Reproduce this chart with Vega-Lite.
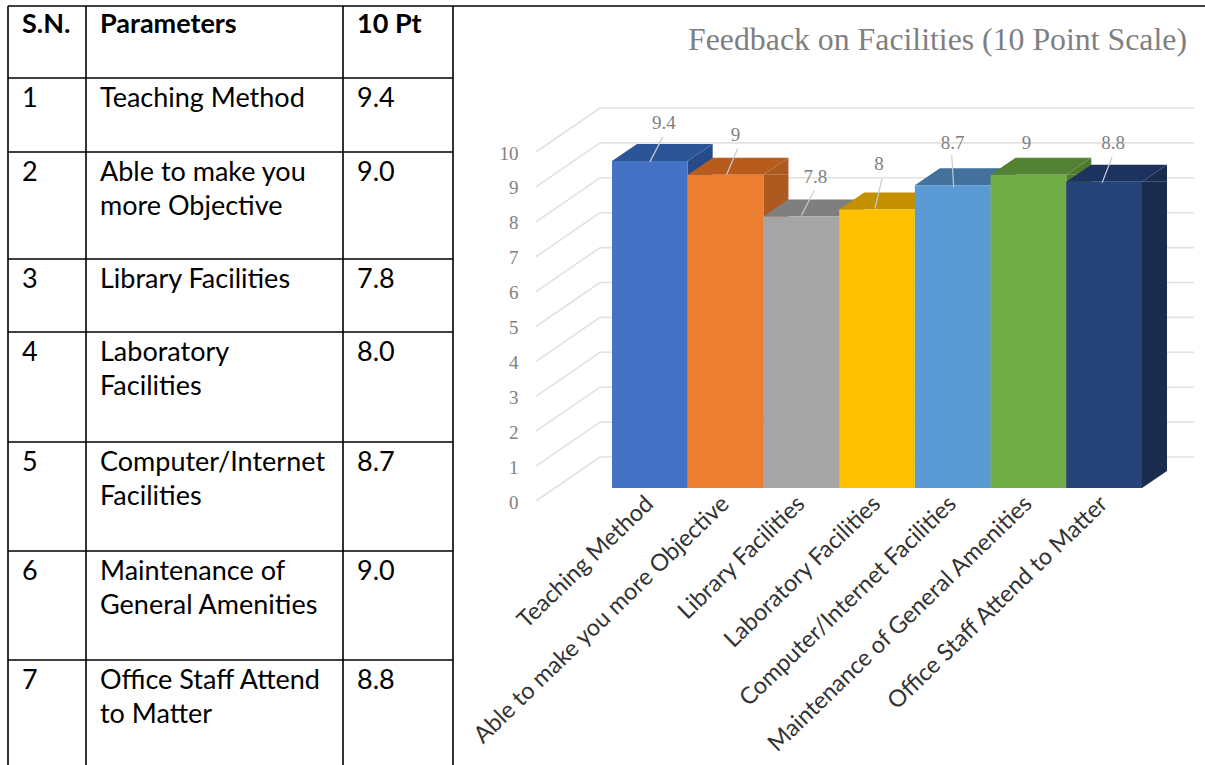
{
"$schema":"https://vega.github.io/schema/vega-lite/v6.json",
"padding":0,"background":"white",
"config":{"view":{"stroke":null},"font":"Lato"},
"bounds":"flush","spacing":0,
"datasets":{
"facilities":[
{"sn":1,"parameter":"Teaching Method","score":9.4},
{"sn":2,"parameter":"Able to make you more Objective","score":9},
{"sn":3,"parameter":"Library Facilities","score":7.8},
{"sn":4,"parameter":"Laboratory Facilities","score":8},
{"sn":5,"parameter":"Computer/Internet Facilities","score":8.7},
{"sn":6,"parameter":"Maintenance of General Amenities","score":9},
{"sn":7,"parameter":"Office Staff Attend to Matter","score":8.8}],
"header":[{"col":0,"row":0,"text":"S.N."},{"col":1,"row":0,"text":"Parameters"},{"col":2,"row":0,"text":"10 Pt"}],
"cells":[
{"col":0,"row":1,"text":"1"},{"col":1,"row":1,"text":"Teaching Method"},{"col":2,"row":1,"text":"9.4"},
{"col":0,"row":2,"text":"2"},{"col":1,"row":2,"text":"Able to make you\nmore Objective"},{"col":2,"row":2,"text":"9.0"},
{"col":0,"row":3,"text":"3"},{"col":1,"row":3,"text":"Library Facilities"},{"col":2,"row":3,"text":"7.8"},
{"col":0,"row":4,"text":"4"},{"col":1,"row":4,"text":"Laboratory\nFacilities"},{"col":2,"row":4,"text":"8.0"},
{"col":0,"row":5,"text":"5"},{"col":1,"row":5,"text":"Computer/Internet\nFacilities"},{"col":2,"row":5,"text":"8.7"},
{"col":0,"row":6,"text":"6"},{"col":1,"row":6,"text":"Maintenance of\nGeneral Amenities"},{"col":2,"row":6,"text":"9.0"},
{"col":0,"row":7,"text":"7"},{"col":1,"row":7,"text":"Office Staff Attend\nto Matter"},{"col":2,"row":7,"text":"8.8"}],
"rowLines":[{"row":1},{"row":2},{"row":3},{"row":4},{"row":5},{"row":6},{"row":7}],
"colLines":[{"col":0},{"col":1},{"col":2},{"col":3}],
"topLine":[{"row":0}],
"ticks":[{"tick":0},{"tick":1},{"tick":2},{"tick":3},{"tick":4},{"tick":5},{"tick":6},{"tick":7},{"tick":8},{"tick":9},{"tick":10}]
},
"hconcat":[
{"width":600,"height":765,
"layer":[
{"data":{"name":"rowLines"},"mark":{"type":"rule","color":"#000000","strokeWidth":1.6},
 "encoding":{"y":{"field":"row","type":"quantitative","axis":null,"scale":{"domain":[0,1,2,3,4,5,6,7,8],"range":[6,78,152,259,332,442,551,660,765]}},
 "x":{"datum":0,"type":"quantitative","axis":null,"scale":{"domain":[0,1,2,3,4],"range":[8,86,343,453,1205]}},"x2":{"datum":3}}},
{"data":{"name":"topLine"},"mark":{"type":"rule","color":"#000000","strokeWidth":1.6},
 "encoding":{"y":{"field":"row","type":"quantitative"},"x":{"datum":0,"type":"quantitative"},"x2":{"datum":4}}},
{"data":{"name":"colLines"},"mark":{"type":"rule","color":"#000000","strokeWidth":1.6},
 "encoding":{"x":{"field":"col","type":"quantitative"},"y":{"datum":0,"type":"quantitative"},"y2":{"datum":8}}},
{"data":{"name":"header"},"mark":{"type":"text","align":"left","baseline":"alphabetic","dx":14,"dy":27,"font":"Lato","fontSize":27,"fontWeight":"bold","color":"#000000"},
 "encoding":{"x":{"field":"col","type":"quantitative"},"y":{"field":"row","type":"quantitative"},"text":{"field":"text"}}},
{"data":{"name":"cells"},"mark":{"type":"text","align":"left","baseline":"alphabetic","dx":14,"dy":29,"font":"Lato","fontSize":27,"lineBreak":"\n","lineHeight":33.5,"color":"#000000"},
 "encoding":{"x":{"field":"col","type":"quantitative"},"y":{"field":"row","type":"quantitative"},"text":{"field":"text"}}}
]},
{"width":594,"height":765,
"title":{"text":"Feedback on Facilities  (10 Point Scale)","anchor":"end","frame":"group","orient":"top","offset":-52,"dy":30,"dx":-7,"baseline":"alphabetic","font":"Liberation Serif","fontSize":31.8,"fontWeight":"normal","color":"#7f7f7f"},
"resolve":{"scale":{"y":"independent"},"axis":{"y":"independent"}},
"layer":[
{"data":{"name":"ticks"},
 "encoding":{"y":{"field":"tick","type":"quantitative","scale":{"domain":[0,10],"range":[457,108]},
   "axis":{"orient":"left","values":[0,1,2,3,4,5,6,7,8,9,10],"domain":false,"ticks":false,"grid":false,"title":null,"offset":82,"labelPadding":0,"tickSize":0,"labelOffset":45,"labelFont":"Liberation Serif","labelFontSize":19,"labelColor":"#808080"}}},
 "layer":[
 {"mark":{"type":"rule","color":"#e2e2e2","strokeWidth":1.6}},
 {"mark":{"type":"point","filled":false,"size":4,"shape":"M-297 0L-361 44","color":"#e2e2e2","strokeWidth":1.6,"opacity":1}}
 ]},
{"data":{"name":"facilities"},
 "resolve":{"scale":{"color":"independent"}},
 "encoding":{"x":{"field":"parameter","type":"nominal","sort":null,
   "scale":{"type":"band","domain":["Teaching Method","Able to make you more Objective","Library Facilities","Laboratory Facilities","Computer/Internet Facilities","Maintenance of General Amenities","Office Staff Attend to Matter"],"range":[12,542],"paddingInner":0,"paddingOuter":0},
   "axis":{"orient":"bottom","title":null,"domain":false,"ticks":false,"tickSize":0,"labelPadding":0,"offset":-265,"labelAngle":-44,"labelAlign":"right","labelBaseline":"middle","labelFont":"Lato","labelFontSize":23.5,"labelColor":"#333333","labelLimit":600,"labelOverlap":false}},
  "y":{"field":"score","type":"quantitative","scale":{"domain":[0,10],"range":[488,140]},"axis":null}},
 "layer":[
 {"mark":{"type":"bar","width":25,"xOffset":50.35,"y2Offset":-17},
  "encoding":{"y2":{"datum":0},"color":{"field":"parameter","type":"nominal","sort":null,"legend":null,"scale":{"range":["#264a8a","#ad5a20","#7c7c7c","#bf9000","#43729d","#4f7a2e","#1a2c4d"]}}}},
 {"mark":{"type":"point","filled":true,"opacity":1,"size":4,"strokeWidth":0,"shape":"M37.85 0L62.85 -17L62.85 0Z"},
  "encoding":{"color":{"field":"parameter","type":"nominal","sort":null,"legend":null,"scale":{"range":["#264a8a","#ad5a20","#7c7c7c","#bf9000","#43729d","#4f7a2e","#1a2c4d"]}}}},
 {"mark":{"type":"point","filled":true,"opacity":1,"size":4,"strokeWidth":0,"shape":"M37.85 0L37.85 -17L62.85 -17Z"},
  "encoding":{"y":{"datum":0,"type":"quantitative"},"color":{"field":"parameter","type":"nominal","sort":null,"legend":null,"scale":{"range":["#264a8a","#ad5a20","#7c7c7c","#bf9000","#43729d","#4f7a2e","#1a2c4d"]}}}},
 {"mark":{"type":"point","filled":true,"opacity":1,"size":4,"strokeWidth":0,"shape":"M-37.85 0L37.85 0L62.85 -17L-12.85 -17Z"},
  "encoding":{"color":{"field":"parameter","type":"nominal","sort":null,"legend":null,"scale":{"range":["#2c5597","#b85c1e","#7f7f7f","#c49000","#41719c","#548235","#1c3360"]}}}},
 {"mark":{"type":"bar"},
  "encoding":{"y2":{"datum":0},"color":{"field":"parameter","type":"nominal","sort":null,"legend":null,"scale":{"range":["#4472c4","#ed7d31","#a5a5a5","#ffc000","#5b9bd5","#70ad47","#264478"]}}}},
 {"mark":{"type":"point","filled":false,"opacity":1,"size":4,"strokeWidth":1.2,"color":"#c6ccd4"},
  "encoding":{"shape":{"field":"parameter","type":"nominal","sort":null,"legend":null,"scale":{"range":["M0 1L13 -24","M1 0L12 -26","M0 -1L13 -26","M-2 -1L5 -31","M1 2L-1 -30","M0 0L0 0","M-2 1L8 -25"]}}}},
 {"mark":{"type":"text","baseline":"middle","font":"Liberation Serif","fontSize":19,"color":"#7f7f7f",
   "dx":{"expr":"[14,10,14,2,0,-2,9][datum.sn-1]"},"dy":{"expr":"[-38,-40,-40,-46,-42,-32,-39][datum.sn-1]"}},
  "encoding":{"text":{"field":"score","type":"quantitative"}}}
 ]}
]}
]}
